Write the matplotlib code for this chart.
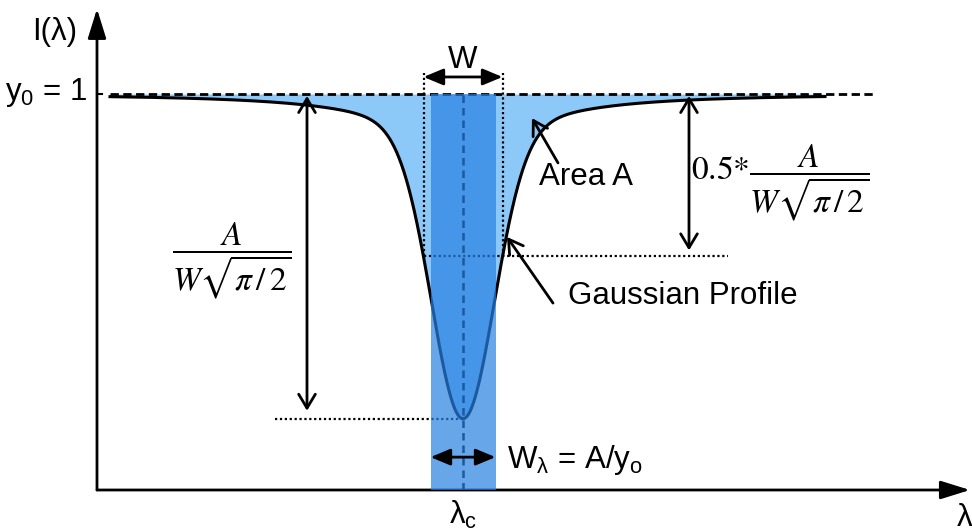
import numpy as np
import matplotlib.pyplot as plt
from matplotlib.patches import Rectangle

plt.rcParams['font.family'] = ['Liberation Sans', 'DejaVu Sans']
plt.rcParams['mathtext.fontset'] = 'custom'
plt.rcParams['mathtext.rm'] = 'Liberation Sans'
plt.rcParams['mathtext.it'] = 'Liberation Sans:italic'

# Absorption line (wavelength in arbitrary units, intensity relative to continuum)
y0 = 1.0
lam_c = 3.66
depth = 0.82            # continuum minus line minimum
core_fwhm = 0.73        # gaussian core width
wing_frac = 0.15        # share of the extended wings
wing_hwhm = 0.85
lam_range = [0.13, 7.28]
W = 0.79                # full width at half depth
W_lambda = 0.65         # equivalent width

I_min = y0 - depth
I_half = y0 - depth / 2


def profile(lam):
    r = lam - lam_c
    core = np.exp(-np.log(2) * (2 * r / core_fwhm) ** 2)
    wing = 1.0 / (1.0 + (r / wing_hwhm) ** 2)
    return y0 - depth * ((1 - wing_frac) * core + wing_frac * wing)


FS = 22.5
FRAC_FS = 24
light_blue = '#8cc8f8'
box_blue = (40 / 255, 128 / 255, 226 / 255)

fig = plt.figure(figsize=(9.72, 5.31), dpi=100)
ax = fig.add_axes([0, 0, 1, 1])
ax.set_xlim(-0.97, 8.75)
ax.set_ylim(-41 / 396, 490 / 396)
ax.axis('off')

# axes with arrow heads
axis_arrow = dict(arrowstyle='-|>,head_length=0.9,head_width=0.28', mutation_scale=20,
                  lw=2, color='k', shrinkA=0, shrinkB=0)
ax.annotate('', xy=(0, 1.215), xytext=(0, 0), arrowprops=axis_arrow)
ax.annotate('', xy=(8.73, 0), xytext=(0, 0), arrowprops=axis_arrow)
ax.plot([0, 0.05], [y0, y0], color='k', lw=1.5)

# continuum level
ax.plot([0.13, 7.78], [y0, y0], color='k', lw=2, ls=(0, (3, 1.6)), zorder=3)

# line profile and its absorbed area
lam = np.linspace(lam_range[0], lam_range[1], 1200)
I = profile(lam)
ax.fill_between(lam, I, y0, color=light_blue, lw=0, zorder=1)
ax.plot(lam, I, color='k', lw=2.2, zorder=3)

# line centre
ax.plot([lam_c, lam_c], [0, y0], color='k', lw=1.8, ls=(0, (3, 2)), zorder=3)

# guide lines at the minimum and at half depth
dots = (0, (1, 1.2))
ax.plot([1.78, lam_c], [I_min, I_min], color='k', lw=1.6, ls=dots, zorder=3)
ax.plot([lam_c - W / 2, 6.31], [I_half, I_half], color='k', lw=1.6, ls=dots, zorder=3)
for x in (lam_c - W / 2, lam_c + W / 2):
    ax.plot([x, x], [I_half, 1.053], color='k', lw=1.6, ls=dots, zorder=3)

# equivalent width box, laid over everything beneath it
ax.add_patch(Rectangle((lam_c - W_lambda / 2, 0), W_lambda, y0, facecolor=box_blue,
                       alpha=0.7, lw=0, zorder=4))

# width arrows
flat_arrow = dict(arrowstyle='<|-|>,head_length=0.6,head_width=0.25', mutation_scale=20,
                  lw=2, color='k', shrinkA=0, shrinkB=0)
ax.annotate('', xy=(lam_c + W / 2, 1.043), xytext=(lam_c - W / 2, 1.043),
            arrowprops=flat_arrow, zorder=5)
ax.text(lam_c, 1.086, 'W', fontsize=FS, ha='center', va='center')
ax.annotate('', xy=(lam_c + W_lambda / 2, 0.083), xytext=(lam_c - W_lambda / 2, 0.083),
            arrowprops=flat_arrow, zorder=5)
ax.text(lam_c + W_lambda / 2 + 0.115, 0.076, r'W$_{\mathrm{λ}}$ = A/y$_{\mathrm{o}}$',
        fontsize=FS, ha='left', va='center', zorder=5)

# depth arrows
open_arrow = dict(arrowstyle='<->,head_length=0.5,head_width=0.3', mutation_scale=20,
                  lw=2, color='k', shrinkA=0, shrinkB=0)
ax.annotate('', xy=(2.10, I_min + 0.02), xytext=(2.10, y0 - 0.005), arrowprops=open_arrow)
ax.annotate('', xy=(5.92, I_half + 0.015), xytext=(5.92, y0 - 0.005), arrowprops=open_arrow)
ax.text(1.35, 0.578, r'$\dfrac{A}{W\sqrt{\pi\,/\,2}}$', fontsize=FRAC_FS,
        math_fontfamily='stix', ha='center', va='center')
ax.text(6.83, 0.776, r'$\mathrm{0.5}{*}\dfrac{A}{W\sqrt{\pi\,/\,2}}$', fontsize=FRAC_FS,
        math_fontfamily='stix', ha='center', va='center')

# callouts
pointer = dict(arrowstyle='->,head_length=0.5,head_width=0.3', mutation_scale=20,
               lw=2, color='k', shrinkA=0, shrinkB=0)
ax.annotate('', xy=(4.35, 0.939), xytext=(4.61, 0.826), arrowprops=pointer)
ax.text(4.89, 0.79, 'Area A', fontsize=FS, ha='center', va='center')
ax.annotate('', xy=(4.10, 0.639), xytext=(4.56, 0.472), arrowprops=pointer)
ax.text(4.71, 0.49, 'Gaussian Profile', fontsize=FS, ha='left', va='center')

# axis labels
ax.text(-0.42, 1.157, 'I(λ)', fontsize=FS, ha='center', va='center')
ax.text(-0.10, 1.005, r'y$_{\mathrm{0}}$ = 1', fontsize=FS, ha='right', va='center')
ax.text(lam_c, -0.063, r'λ$_{\mathrm{c}}$', fontsize=FS, ha='center', va='center')
ax.text(8.60, -0.07, 'λ', fontsize=FS, ha='left', va='center')

fig.savefig('out.png', dpi=100)
